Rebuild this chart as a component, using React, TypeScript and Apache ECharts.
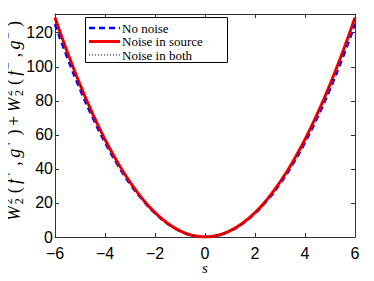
import React, { useEffect, useRef } from "react";
import * as echarts from "echarts";

const sValues = [-6, -5.5, -5, -4.5, -4, -3.5, -3, -2.5, -2, -1.5, -1, -0.5, 0, 0.5, 1, 1.5, 2, 2.5, 3, 3.5, 4, 4.5, 5, 5.5, 6];
const noNoise = [125, 105, 86.8, 70.3, 55.5, 42.5, 31.2, 21.7, 13.9, 7.8, 3.5, 0.9, 0, 0.9, 3.5, 7.8, 13.9, 21.7, 31.2, 42.5, 55.5, 70.3, 86.8, 105, 125];
const noiseSource = [129, 108.4, 89.6, 72.6, 57.3, 43.9, 32.3, 22.4, 14.3, 8.1, 3.6, 0.9, 0, 0.9, 3.6, 8.1, 14.3, 22.4, 32.3, 43.9, 57.3, 72.6, 89.6, 108.4, 129];
const noiseBoth = [128.4, 107.9, 89.2, 72.3, 57.1, 43.7, 32.1, 22.3, 14.3, 8, 3.6, 0.9, 0, 0.9, 3.6, 8, 14.3, 22.3, 32.1, 43.7, 57.1, 72.3, 89.2, 107.9, 128.4];
const legendNames = ["No noise", "Noise in source", "Noise in both"];
// y title pieces: [text, kind]; kind: m = math italic, r = roman, sup, ss = stacked sup|sub
const yTitlePieces: [string, string][] = [
  ["W", "m"], ["2|2", "ss"], ["(", "r"], ["f", "m"], ["+", "sup"], [",", "r"], ["g", "m"], ["+", "sup"], [")", "r"], ["+", "r"],
  ["W", "m"], ["2|2", "ss"], ["(", "r"], ["f", "m"], ["\u2212", "sup"], [",", "r"], ["g", "m"], ["\u2212", "sup"], [")", "r"],
];
const xTitle = "s";

const pairs = (ys: number[]) => sValues.map((s, i) => [s, ys[i]]);
const fmt = (v: number) => String(v).replace("-", "\u2212");

const SERIF = "'Liberation Serif', serif";
const fonts: Record<string, string> = {
  m: `italic 18px ${SERIF}`,
  r: `18px ${SERIF}`,
  s: `12px ${SERIF}`,
};
const Y_TITLE_LENGTH = 200;

function buildYTitle() {
  const ctx = document.createElement("canvas").getContext("2d")!;
  const measure = (t: string, f: string) => {
    ctx.font = f;
    return ctx.measureText(t).width;
  };
  const widths = yTitlePieces.map(([t, k]) => {
    if (k === "m" || k === "r") return measure(t, fonts[k]);
    if (k === "sup") return measure(t, fonts.s);
    const [a, b] = t.split("|");
    return Math.max(measure(a, fonts.s), measure(b, fonts.s));
  });
  const natural = widths.reduce((a, b) => a + b, 0);
  const gap = Math.max(0, (Y_TITLE_LENGTH - natural) / (yTitlePieces.length - 1));
  const items: any[] = [];
  let x = -Y_TITLE_LENGTH / 2;
  yTitlePieces.forEach(([t, k], i) => {
    if (k === "m" || k === "r") {
      items.push({ t, f: fonts[k], x, y: 0 });
    } else if (k === "sup") {
      items.push({ t, f: fonts.s, x: x - gap * 0.5, y: -6.5 });
    } else {
      const [a, b] = t.split("|");
      items.push({ t: a, f: fonts.s, x: x - gap * 0.5, y: -6.5 });
      items.push({ t: b, f: fonts.s, x: x - gap * 0.5, y: 5 });
    }
    x += widths[i] + gap;
  });
  return items.map((it) => ({
    type: "text",
    x: it.x,
    y: it.y,
    style: { text: it.t, font: it.f, fill: "#000", align: "left", verticalAlign: "middle" },
  }));
}

export default function App() {
  const ref = useRef<HTMLDivElement>(null);
  useEffect(() => {
    const chart = echarts.init(ref.current!, null, { renderer: "svg" });
    const axisCommon = {
      axisLine: { show: true, onZero: false, lineStyle: { color: "#333", width: 1 } },
      axisTick: { show: true, inside: true, length: 4, lineStyle: { color: "#333" } },
      splitLine: { show: false },
    };
    const labelStyle = { color: "#000", fontFamily: "Liberation Sans", fontSize: 16 };
    chart.setOption({
      animation: false,
      grid: { left: 55, right: 19, top: 14, bottom: 44, show: false },
      xAxis: [
        {
          type: "value", min: -6, max: 6, interval: 2, position: "bottom",
          ...axisCommon,
          axisLabel: { ...labelStyle, margin: 8, formatter: fmt },
        },
        {
          type: "value", min: -6, max: 6, interval: 2, position: "top",
          ...axisCommon, axisLabel: { show: false },
        },
      ],
      yAxis: [
        {
          type: "value", min: 0, max: 131, interval: 20, position: "left",
          ...axisCommon,
          axisLabel: { ...labelStyle, margin: 2, formatter: (v: number) => (v % 20 !== 0 ? "" : fmt(v)) },
        },
        {
          type: "value", min: 0, max: 131, interval: 20, position: "right",
          ...axisCommon, axisLabel: { show: false },
        },
      ],
      series: [
        {
          name: legendNames[0], type: "line", data: pairs(noNoise), smooth: true, showSymbol: false,
          lineStyle: { color: "#0000ff", width: 2.5, type: [6, 4] },
        },
        {
          name: legendNames[1], type: "line", data: pairs(noiseSource), smooth: true, showSymbol: false,
          lineStyle: { color: "#ff0000", width: 3 },
        },
        {
          name: legendNames[2], type: "line", data: pairs(noiseBoth), smooth: true, showSymbol: false,
          lineStyle: { color: "#000", width: 1, type: [1, 2] },
        },
      ],
      graphic: [
        { type: "rect", shape: { x: 85.5, y: 17.5, width: 142, height: 45 }, style: { fill: "#fff", stroke: "#000", lineWidth: 1 }, z: 100 },
        { type: "line", shape: { x1: 89, y1: 28, x2: 120, y2: 28 }, style: { stroke: "#0000ff", lineWidth: 2.5, lineDash: [6, 4] }, z: 101 },
        { type: "line", shape: { x1: 89, y1: 41.5, x2: 120, y2: 41.5 }, style: { stroke: "#ff0000", lineWidth: 3 }, z: 101 },
        { type: "line", shape: { x1: 89, y1: 55, x2: 120, y2: 55 }, style: { stroke: "#000", lineWidth: 1, lineDash: [1, 2] }, z: 101 },
        ...legendNames.map((n, i) => ({
          type: "text", x: 122, y: 28 + i * 13.5, z: 101,
          style: { text: n, fill: "#000", fontFamily: SERIF, fontSize: 13, lineHeight: 13, verticalAlign: "middle", align: "left" },
        })),
        {
          type: "group", x: 14, y: 121, rotation: Math.PI / 2, z: 101,
          children: buildYTitle(),
        },
        {
          type: "text", x: 205, y: 268, z: 101,
          style: { text: xTitle, fill: "#000", fontFamily: SERIF, fontStyle: "italic", fontSize: 15, align: "center", verticalAlign: "middle" },
        },
      ],
    });
    return () => chart.dispose();
  }, []);
  return <div ref={ref} style={{ width: 374, height: 281, margin: -8 }} />;
}
